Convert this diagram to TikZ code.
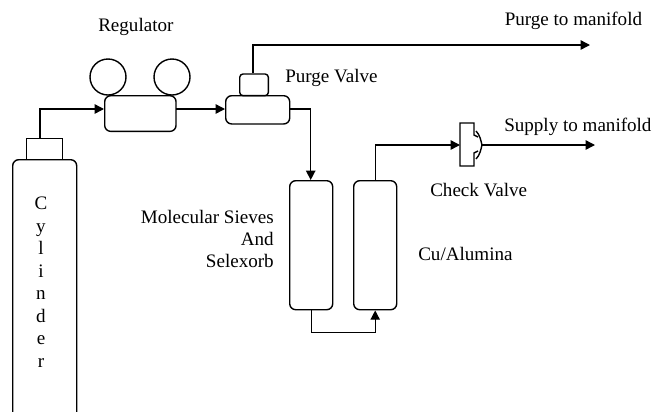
\documentclass[tikz,border=0pt]{standalone}
\usepackage{fontspec}
\setmainfont{Liberation Serif}
\usetikzlibrary{arrows.meta,positioning}
\tikzset{
 x=0.75pt,y=-0.75pt,
 part/.style={draw=black,line width=1.05pt,rounded corners=4.5pt,inner sep=0pt,anchor=north west,minimum width=#1},
 cap/.style={draw=black,line width=1.05pt,inner sep=0pt,anchor=north west,minimum width=#1},
 gauge/.style={draw=black,line width=1.05pt,circle,inner sep=0pt,minimum size=27pt},
 flow/.style={line width=1.05pt,-{Triangle[length=7pt,width=7pt]}},
 pipe/.style={line width=1.05pt},
 lab/.style={inner sep=0pt,font=\fontsize{14.3}{16.85}\selectfont}
}
\begin{document}
\begin{tikzpicture}
\useasboundingbox (0,0) rectangle (652,411);
\clip (0,0) rectangle (652,411);
\node[part=48pt,minimum height=194pt] (cyl) at (12,159) {};
\node[cap=27pt,minimum height=15.75pt] (cylcap) at (25.7,138) {};
\node[part=53.5pt,minimum height=26.75pt] (reg) at (104,95) {};
\node[gauge] (g1) at (108,77) {};
\node[gauge] (g2) at (172,77) {};
\node[part=48pt,minimum height=21.2pt] (pv) at (225,95) {};
\node[part=21.5pt,minimum height=16.25pt,rounded corners=2.5pt] (pvcap) at (239,73.3) {};
\node[part=32.25pt,minimum height=96.75pt] (bed1) at (289,180) {};
\node[part=32.25pt,minimum height=96.75pt] (bed2) at (353,180) {};
\coordinate (cvin) at (460,145);
\coordinate (cylout) at (40,138);
\coordinate (regin) at (104,109);
\coordinate (regout) at (175.7,109);
\coordinate (pvin) at (225,109);
\coordinate (pvtop) at (253,73.3);
\coordinate (pvout) at (289,109);
\coordinate (b1in) at (310.7,180);
\coordinate (pt) at (590,45);
\coordinate (st) at (595,145);
\coordinate (cvout) at (482,145);
\draw[flow] (cylout) |- (regin);
\draw[flow] (regout) -- (pvin);
\draw[flow] (pvout) -| (b1in);
\draw[flow] (pvtop) |- (pt);
\draw[flow] (bed1.south) -- ++(0,22) -| (bed2.south);
\draw[flow] (bed2.north) |- (cvin);
\draw[pipe,line join=miter] (478,137) -- (474,135) -- (474,123) -- (460,123) -- (460,166) -- (474,166) -- (474,153) -- (478,151);
\draw[pipe] (476,131) .. controls (480,135) and (481,141) .. (cvout) .. controls (481,149) and (480,155) .. (476,159);
\draw[flow] (cvout) -- (st);
\node[lab,anchor=base west] (tr) at (98,31.5) {Regulator};
\node[lab,anchor=base west] (tpm) at (504.5,25) {Purge to manifold};
\node[lab,anchor=base west] (tpv) at (285,82) {Purge Valve};
\node[lab,anchor=base west] (tsm) at (504,131) {Supply to manifold};
\node[lab,anchor=base west] (tcv) at (430,196) {Check Valve};
\node[lab,anchor=base west] (tcu) at (418,260) {Cu/Alumina};
\node[lab,align=right,anchor=north east] (tms) at (274,209.5) {Molecular Sieves\\And\\Selexorb};
\node[lab,align=center,anchor=north] (tcyl) at (41,197) {C\\y\\l\\i\\n\\d\\e\\r};
\end{tikzpicture}
\end{document}
